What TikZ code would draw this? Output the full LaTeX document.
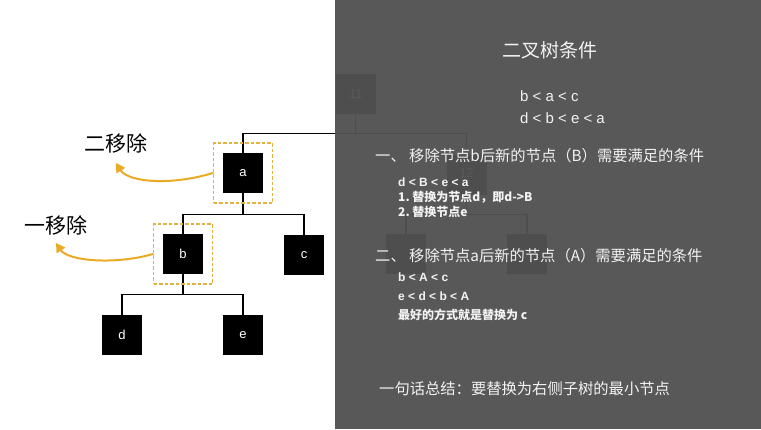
\documentclass[tikz,border=0pt]{standalone}
\usepackage{fontspec}
\setmainfont{Noto Sans CJK SC}
\newfontfamily\latinfont{Liberation Sans}
\usetikzlibrary{arrows.meta}
\definecolor{panel}{RGB}{82,82,82}
\definecolor{gold}{RGB}{235,170,36}
\definecolor{goldd}{RGB}{228,178,64}
\definecolor{ink}{RGB}{242,242,242}
\begin{document}
\begin{tikzpicture}[x=1pt,y=-1pt,
  tnode/.style={fill=black,minimum size=40pt,inner sep=0pt,text=white,font=\latinfont\fontsize{13}{13}\selectfont},
  edge/.style={line width=1.3pt},
  selbox/.style={draw=goldd,dash pattern=on 3.5pt off 2pt,line width=1.1pt,minimum width=59pt,minimum height=60pt,inner sep=0pt},
  hint/.style={draw=gold,line width=2pt,line cap=round,-{Triangle[length=9pt,width=10pt]}},
  side/.style={font=\fontsize{21}{21}\selectfont,inner sep=0pt},
  big/.style={text=ink,font=\fontsize{15.3}{15.3}\selectfont,anchor=west,inner sep=0pt},
  rel/.style={text=ink,font=\latinfont\fontsize{15}{15}\selectfont,anchor=west,inner sep=0pt},
  small/.style={text=ink,font=\fontsize{12}{12}\selectfont\bfseries,anchor=west,inner sep=0pt},
  smallrel/.style={text=ink,font=\latinfont\fontsize{12}{12}\selectfont\bfseries,anchor=west,inner sep=0pt},
]
\useasboundingbox (0,0) rectangle (761,429);
\fill[white] (0,0) rectangle (761,429);

% the tree
\node[tnode] (n11) at (355.5,94) {11};
\node[tnode] (a) at (243,173) {a};
\node[tnode] (n12) at (466.5,175) {\raisebox{4pt}{12}};
\node[tnode] (b) at (183,254) {b};
\node[tnode] (c) at (304,255) {c};
\node[tnode] (d) at (122,335) {d};
\node[tnode] (e) at (243,335) {e};
\node[tnode] (f) at (406,254) {};
\node[tnode] (g) at (527,254) {};

\draw[edge] (n11.south) -- ++(0,19) -| (a.north);
\draw[edge] (n11.south) ++(0,19) -| (n12.north);
\draw[edge] (a.south) -- ++(0,21) -| (b.north);
\draw[edge] (a.south) ++(0,21) -| (c.north);
\draw[edge] (b.south) -- ++(0,20) -| (d.north);
\draw[edge] (b.south) ++(0,20) -| (e.north);
\draw[edge] (n12.south) -- ++(0,19) -| (f.north);
\draw[edge] (n12.south) ++(0,19) -| (g.north);

% dark notes panel laid over the right part of the tree
\fill[panel,opacity=0.96] (335,0) rectangle (761,429);

% removal marks
\node[selbox] (sa) at (a) {};
\node[selbox] (sb) at (b) {};
\coordinate (ta) at (116,163);
\coordinate (tb) at (56,243);
\draw[hint] (sa.west) .. controls (170,186) and (128,182) .. (ta);
\draw[hint] (sb.west) .. controls (115,265) and (68,261) .. (tb);
\node[side] (l2) at (116,143) {二移除};
\node[side] (l1) at (56,225) {一移除};

% notes
\node[text=ink,font=\fontsize{19}{19}\selectfont,inner sep=0pt] (title) at (550,50) {二叉树条件};
\node[rel] (r1) at (520,96) {b < a < c};
\node[rel] (r2) at (520,118) {d < b < e < a};

\node[big] (h1) at (375,156) {一、 移除节点b后新的节点（B）需要满足的条件};
\node[smallrel] (s11) at (398,182) {d < B < e < a};
\node[small] (s12) at (398,197) {1.\ 替换为节点d，即d->B};
\node[small] (s13) at (398,212) {2.\ 替换节点e};

\node[big] (h2) at (375,256) {二、 移除节点a后新的节点（A）需要满足的条件};
\node[smallrel] (s21) at (398,277) {b < A < c};
\node[smallrel] (s22) at (398,296) {e < d < b < A};
\node[small] (s23) at (398,315) {最好的方式就是替换为 c};

\node[big] (sum) at (379,389) {一句话总结：要替换为右侧子树的最小节点};
\end{tikzpicture}
\end{document}
